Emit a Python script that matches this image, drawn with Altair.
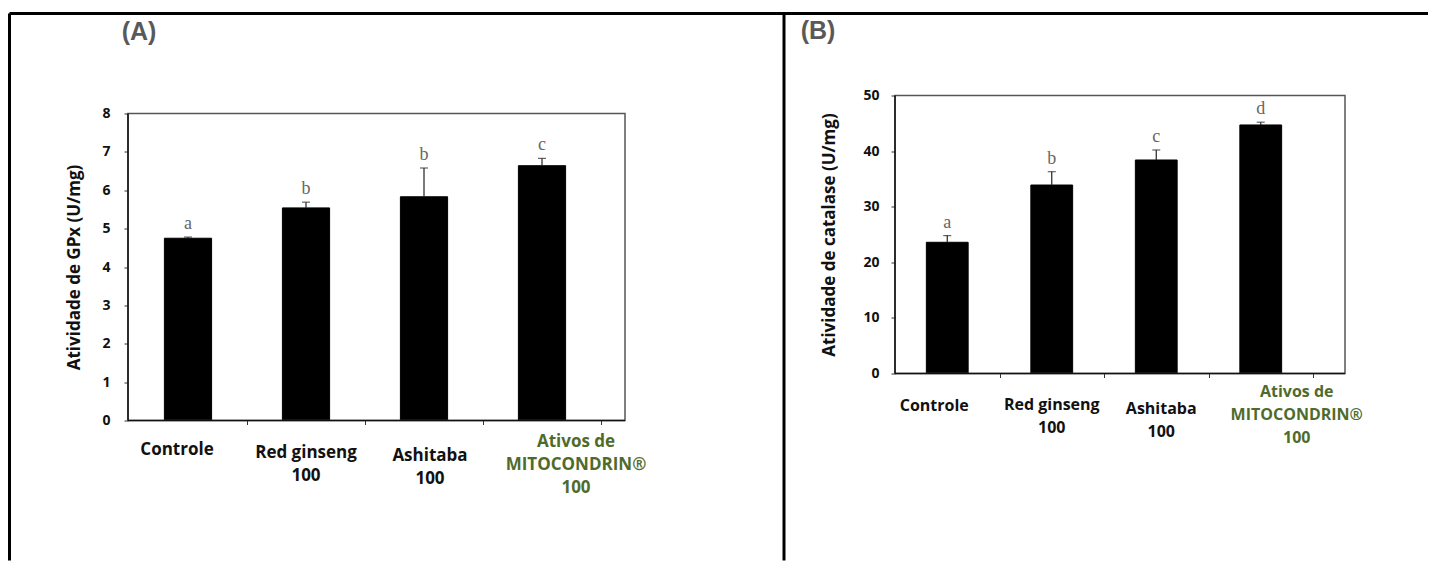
import altair as alt
import pandas as pd

# ---------------- data ----------------
categories = ["Controle", "Red ginseng|100", "Ashitaba|100", "Ativos de|MITOCONDRIN®|100"]

gpx_mean = [4.75, 5.54, 5.83, 6.64]
gpx_err = [0.03, 0.15, 0.75, 0.19]
gpx_letters = ["a", "b", "b", "c"]

catalase_mean = [23.6, 33.9, 38.4, 44.7]
catalase_err = [1.2, 2.4, 1.8, 0.5]
catalase_letters = ["a", "b", "c", "d"]

gpx_ticks = [0, 1, 2, 3, 4, 5, 6, 7, 8]
catalase_ticks = [0, 10, 20, 30, 40, 50]

panel_labels = ["(A)", "(B)"]
y_titles = ["Atividade de GPx (U/mg)", "Atividade de catalase (U/mg)"]

GREEN = "#4f6b2c"
FONT = "Open Sans"
N = len(categories)
P_IN = 0.6


def frame_df(means, errs, letters):
    return pd.DataFrame({
        "cat": categories,
        "mean": means,
        "top": [m + e for m, e in zip(means, errs)],
        "letter": letters,
    })


one = pd.DataFrame({"k": [0]})


def panel(df, ymax, ticks, ytitle, w, h, y_top, x_start, step,
          label_dx, label_pad, xlabel_size, title_pad, label_padding_y,
          extras):
    # band layout: step-wide cells starting at x_start, bar = 40% of a cell
    p_out = (w / step - N + P_IN) / 2
    align = (x_start + P_IN / 2 * step) / (w - step * (N - P_IN))
    xs = alt.Scale(domain=categories, paddingInner=P_IN, paddingOuter=p_out,
                   align=align)
    # value axis: ymax sits at y_top pixels below the top of the view
    ys = alt.Scale(domain=[0, ymax * h / (h - y_top)], nice=False, zero=True)

    x_axis = alt.Axis(
        orient="bottom", title=None, domain=False, labels=False,
        ticks=True, tickSize=4, tickColor="#333", tickOffset=step / 2,
    )
    y_axis = alt.Axis(
        orient="left", values=ticks, grid=False, domain=False,
        tickSize=4, tickColor="#333",
        labelFont=FONT, labelFontWeight="bold", labelFontSize=14,
        labelColor="#111", labelPadding=label_padding_y,
        title=ytitle, titleFont=FONT, titleFontWeight="bold",
        titleFontSize=17, titleColor="#111", titlePadding=title_pad,
        titleY=(y_top + h) / 2,
    )

    base = alt.Chart(df)
    xenc = alt.X("cat:N", scale=xs, sort=categories)
    bars = base.mark_bar(color="black", stroke="black", strokeWidth=1).encode(
        x=alt.X("cat:N", scale=xs, axis=x_axis, sort=categories),
        y=alt.Y("mean:Q", scale=ys, axis=y_axis),
    )
    err = base.mark_rule(color="#222", strokeWidth=1.2).encode(
        x=xenc, y=alt.Y("mean:Q", scale=ys), y2="top:Q",
    )
    cap = base.mark_tick(color="#222", size=8, thickness=1.2).encode(
        x=xenc, y=alt.Y("top:Q", scale=ys),
    )
    letters = base.mark_text(font="Liberation Serif", fontSize=18, color="#666",
                             baseline="bottom", dy=-4).encode(
        x=xenc, y=alt.Y("top:Q", scale=ys), text="letter:N",
    )
    xlabels = []
    for i, c in enumerate(categories):
        color = GREEN if "MITO" in c else "#111"
        xlabels.append(
            base.transform_filter(alt.datum.cat == c).mark_text(
                font=FONT, fontWeight="bold", fontSize=xlabel_size,
                color=color, baseline="top", align="center",
                lineBreak="|", lineHeight=23, dx=label_dx[i]).encode(
                x=xenc, y=alt.value(h + 4 + label_pad[i]), text="cat:N")
        )
    # plot frame: dark left/bottom axis lines, grey top/right
    frame = [
        alt.Chart(one).mark_rect(fill="transparent", stroke="#555",
                                 strokeWidth=1.5).encode(
            x=alt.value(0), x2=alt.value(w), y=alt.value(y_top), y2=alt.value(h)),
        alt.Chart(one).mark_rule(color="#111", strokeWidth=1.5).encode(
            x=alt.value(0), y=alt.value(y_top), y2=alt.value(h)),
        alt.Chart(one).mark_rule(color="#111", strokeWidth=1.5).encode(
            x=alt.value(0), x2=alt.value(w), y=alt.value(h)),
    ]
    return alt.layer(bars, err, cap, letters, *xlabels, *frame, *extras).properties(
        width=w, height=h)


def label_mark(text, x, y):
    return alt.Chart(one).mark_text(
        font="Liberation Sans", fontWeight="bold", fontSize=25,
        color="#595959", align="center", baseline="alphabetic").encode(
        x=alt.value(x), y=alt.value(y), text=alt.value(text))


def line(x, y, x2=None, y2=None):
    enc = dict(x=alt.value(x), y=alt.value(y))
    if x2 is not None:
        enc["x2"] = alt.value(x2)
    if y2 is not None:
        enc["y2"] = alt.value(y2)
    return alt.Chart(one).mark_rule(color="black", strokeWidth=3).encode(**enc)


# panel A view origin sits at page (128, 95); the table borders live in it
extras_a = [
    line(-118.5, -82, x2=1300),          # top border
    line(-118.5, -82, y2=465),           # left border
    line(656, -82, y2=465),              # middle divider
    label_mark(panel_labels[0], 11, -56),
]
extras_b = [label_mark(panel_labels[1], -77, -57)]

df_a = frame_df(gpx_mean, gpx_err, gpx_letters)
df_b = frame_df(catalase_mean, catalase_err, catalase_letters)

panel_a = panel(df_a, 8, gpx_ticks, y_titles[0], w=497, h=325, y_top=18,
                x_start=1, step=118,
                label_dx=[-11, 0, 6, 34], label_pad=[17, 20, 23, 9],
                xlabel_size=17, title_pad=18, label_padding_y=14,
                extras=extras_a)
panel_b = panel(df_b, 50, catalase_ticks, y_titles[1], w=450, h=278, y_top=0,
                x_start=0, step=104.5,
                label_dx=[-13, 0, 5, 36], label_pad=[20, 19, 23, 6],
                xlabel_size=16, title_pad=24, label_padding_y=12,
                extras=extras_b)

chart = alt.hconcat(panel_a, panel_b, spacing=270, bounds="flush").properties(
    padding={"top": 3.5, "left": 0, "right": 0, "bottom": 0},
).configure_view(stroke=None)

chart.save("out.html", embed_options={"renderer": "svg", "actions": False})
